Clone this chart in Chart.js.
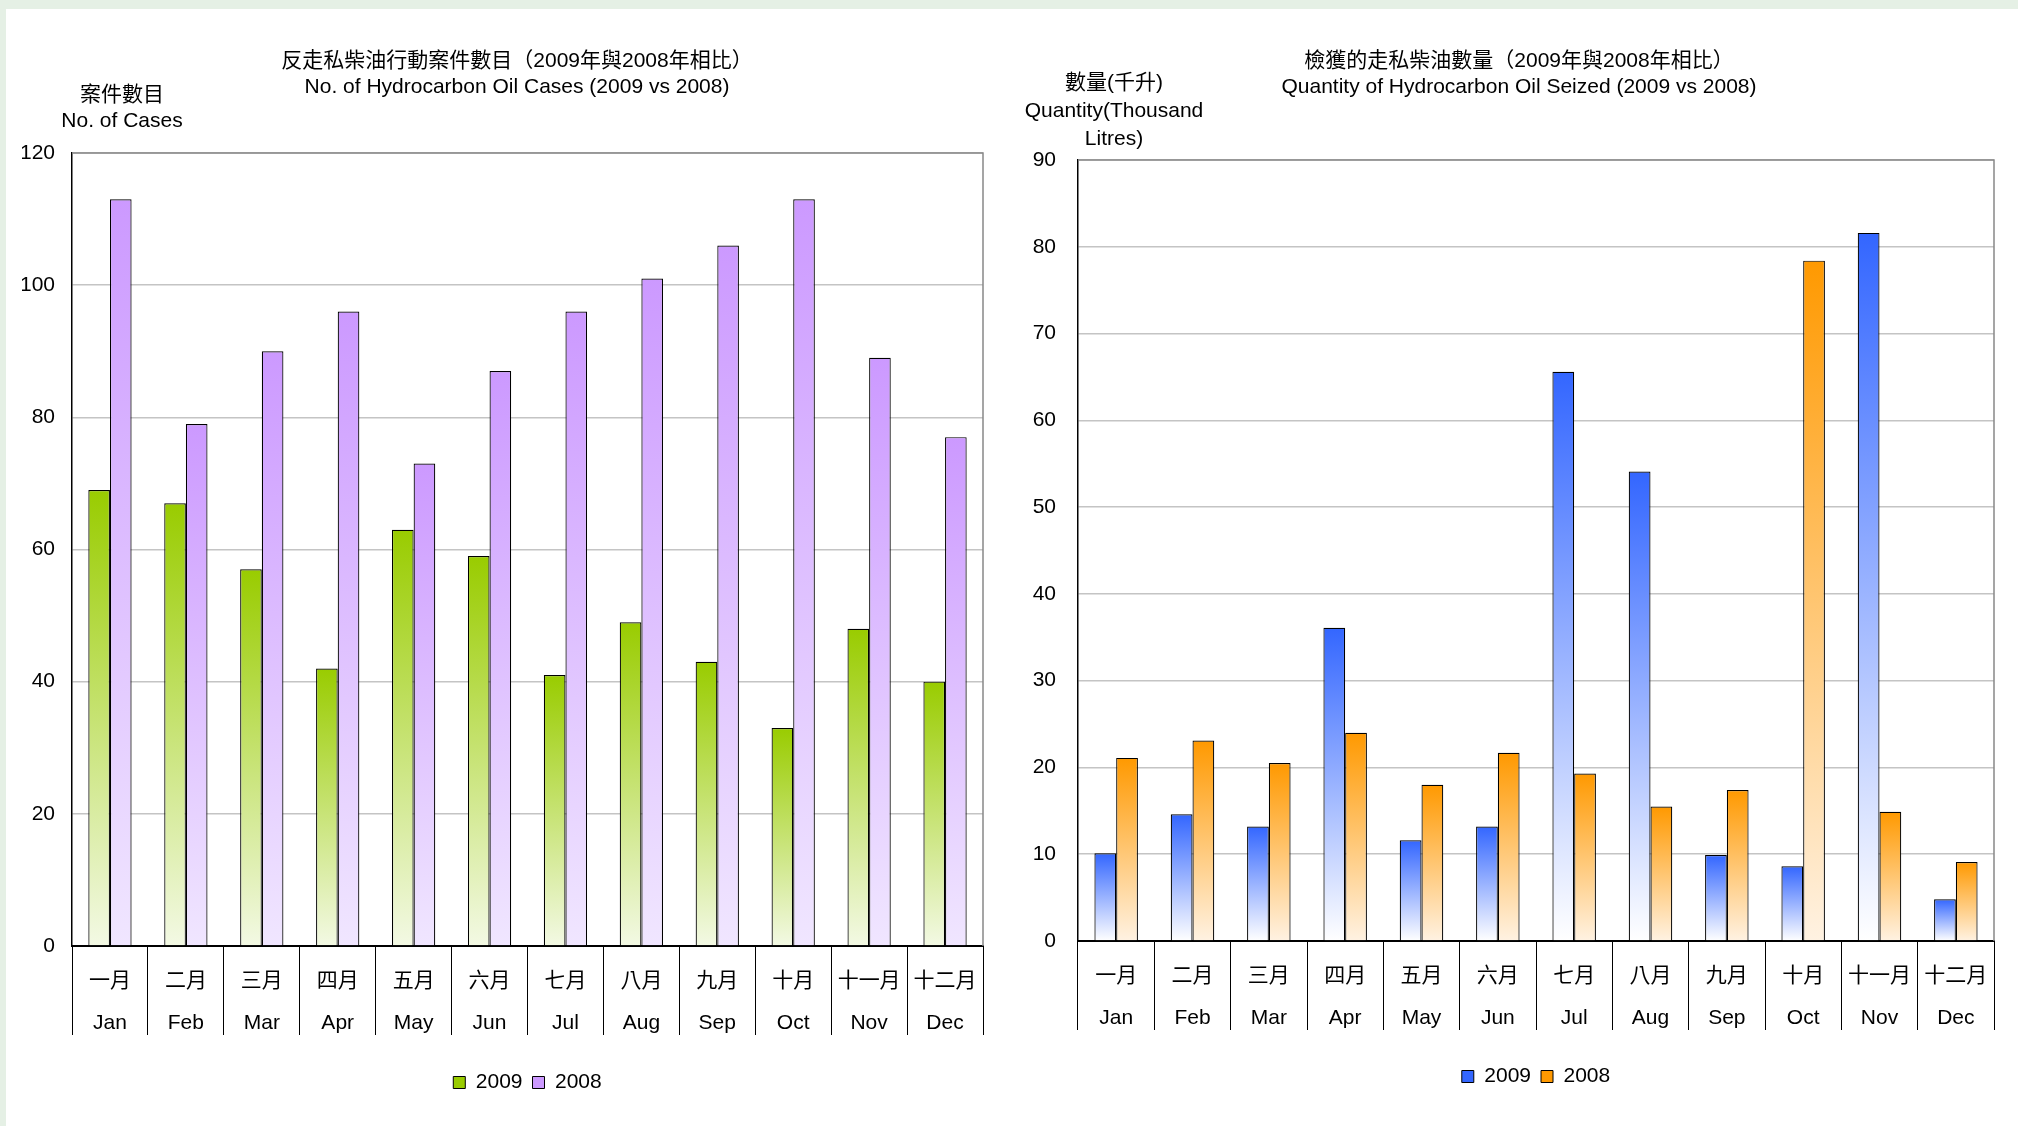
<!DOCTYPE html>
<html>
<head>
<meta charset="utf-8">
<script src="https://cdn.jsdelivr.net/npm/chart.js@4.4.0/dist/chart.umd.min.js"></script>
<style>
    body { margin: 0; width: 2018px; height: 1126px; overflow: hidden; background: #e5f0e5;
           font-family: "Liberation Sans", Arial, "Noto Sans CJK TC", sans-serif; }
    #panel { position: absolute; left: 6px; top: 9px; right: 0; bottom: 0; background: #fff; }
    canvas { position: absolute; top: 0; }
    .txt { position: absolute; transform: translateX(-50%); text-align: center; white-space: nowrap;
           font-size: 21px; line-height: 26px; color: #000; }
</style>
</head>
<body>
<div id="panel"></div>
<canvas id="casesChart" width="1010" height="1126" style="left:0"></canvas>
<canvas id="seizedChart" width="1008" height="1126" style="left:1010px"></canvas>

<div class="txt" style="left:517px; top:47px">反走私柴油行動案件數目（2009年與2008年相比）<br>No. of Hydrocarbon Oil Cases (2009 vs 2008)</div>
<div class="txt" style="left:122px; top:81px">案件數目<br>No. of Cases</div>
<div class="txt" style="left:1519px; top:47px">檢獲的走私柴油數量（2009年與2008年相比）<br>Quantity of Hydrocarbon Oil Seized (2009 vs 2008)</div>
<div class="txt" style="left:1114px; top:68px; line-height:28px">數量(千升)<br>Quantity(Thousand<br>Litres)</div>

<script>
const monthsZh = ['一月', '二月', '三月', '四月', '五月', '六月', '七月', '八月', '九月', '十月', '十一月', '十二月'];
const monthsEn = ['Jan', 'Feb', 'Mar', 'Apr', 'May', 'Jun', 'Jul', 'Aug', 'Sep', 'Oct', 'Nov', 'Dec'];
const seriesNames = ['2009', '2008'];

// 反走私柴油行動案件數目
const cases2009 = [69, 67, 57, 42, 63, 59, 41, 49, 43, 33, 48, 40];
const cases2008 = [113, 79, 90, 96, 73, 87, 96, 101, 106, 113, 89, 77];
const casesTicks = [0, 120, 20];

// 檢獲的走私柴油數量 (千升)
const seized2009 = [10.1, 14.6, 13.2, 36.1, 11.6, 13.2, 65.6, 54.1, 9.9, 8.6, 81.6, 4.8];
const seized2008 = [21.1, 23.1, 20.5, 24.0, 18.0, 21.7, 19.3, 15.5, 17.4, 78.4, 14.9, 9.1];
const seizedTicks = [0, 90, 10];

const labels = monthsZh.map((m, i) => [m, monthsEn[i]]);

Chart.defaults.font.family = '"Liberation Sans", Arial, "Noto Sans CJK TC", sans-serif';
Chart.defaults.font.size = 21;
Chart.defaults.color = '#000';

// each bar fades from its top colour down to a pale colour at zero
function barFill(top, bottom) {
    return (ctx) => {
        if (ctx.type !== 'data') return top;
        const chart = ctx.chart;
        const y = chart.scales.y;
        if (!chart.chartArea || !y) return top;
        const y0 = y.getPixelForValue(ctx.raw);
        const y1 = y.getPixelForValue(0);
        if (!isFinite(y0) || !isFinite(y1) || y1 - y0 < 1) return top;
        const g = chart.ctx.createLinearGradient(0, y0, 0, y1);
        g.addColorStop(0, top);
        g.addColorStop(1, bottom);
        return g;
    };
}

const frame = {
    id: 'frame',
    afterDraw(chart) {
        const { ctx, chartArea: a } = chart;
        ctx.save();
        ctx.strokeStyle = '#888';
        ctx.lineWidth = 1.5;
        ctx.beginPath();
        ctx.moveTo(a.left, a.top);
        ctx.lineTo(a.right, a.top);
        ctx.lineTo(a.right, a.bottom);
        ctx.stroke();
        ctx.restore();
    }
};

function makeChart(id, data09, data08, colors, ticks, padding, labelPad, axisHeight) {
    return new Chart(document.getElementById(id), {
        type: 'bar',
        data: {
            labels: labels,
            datasets: [
                { label: seriesNames[0], data: data09, backgroundColor: barFill(colors[0], colors[1]),
                  borderColor: '#000', borderWidth: 1.2, categoryPercentage: 0.57, barPercentage: 1 },
                { label: seriesNames[1], data: data08, backgroundColor: barFill(colors[2], colors[3]),
                  borderColor: '#000', borderWidth: 1.2, categoryPercentage: 0.57, barPercentage: 1 }
            ]
        },
        options: {
            responsive: false,
            animation: false,
            layout: { padding: padding },
            scales: {
                x: {
                    grid: { offset: true, drawOnChartArea: false, tickLength: 89, color: '#000', lineWidth: 1 },
                    border: { color: '#000', width: 2 },
                    ticks: { padding: -75, maxRotation: 0, autoSkip: false, font: { size: 21, lineHeight: 2 } },
                    afterFit: (s) => { s.height = axisHeight; }
                },
                y: {
                    min: ticks[0], max: ticks[1],
                    ticks: { stepSize: ticks[2], padding: labelPad },
                    grid: { color: '#c4c4c4', lineWidth: 1.5, drawTicks: false },
                    border: { color: '#000', width: 1.5 },
                    afterFit: (s) => { s.width = 50; }
                }
            },
            plugins: {
                legend: {
                    position: 'bottom',
                    fullSize: false,
                    labels: {
                        boxWidth: 12, boxHeight: 12, font: { size: 21 }, padding: 10,
                        generateLabels: (chart) => chart.data.datasets.map((ds, i) => ({
                            text: ds.label,
                            fillStyle: colors[i * 2],
                            strokeStyle: '#000',
                            lineWidth: 1,
                            fontColor: '#000',
                            datasetIndex: i
                        }))
                    }
                },
                tooltip: { enabled: false }
            }
        },
        plugins: [frame]
    });
}

makeChart('casesChart', cases2009, cases2008,
    ['#99cc00', '#f3f9e4', '#cc99ff', '#f0e6ff'], casesTicks,
    { left: 22, top: 153, right: 27, bottom: 23 }, 17, 116);

makeChart('seizedChart', seized2009, seized2008,
    ['#3366ff', '#ffffff', '#ff9900', '#fff2e2'], seizedTicks,
    { left: 18, top: 160, right: 24, bottom: 29 }, 22, 115);
</script>
</body>
</html>
